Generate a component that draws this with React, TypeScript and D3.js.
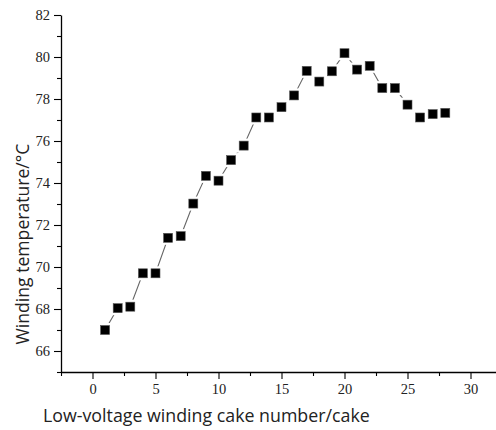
import * as d3 from 'd3';
import React, { useEffect, useRef } from 'react';

// cake number along the low-voltage winding
const cakes = [1, 2, 3, 4, 5, 6, 7, 8, 9, 10, 11, 12, 13, 14, 15, 16, 17, 18, 19, 20, 21, 22, 23, 24, 25, 26, 27, 28];
// winding temperature, degrees C
const temps = [67.0, 68.04, 68.11, 69.7, 69.7, 71.39, 71.47, 73.02, 74.34, 74.11, 75.09, 75.78, 77.12, 77.12, 77.61, 78.17,
  79.34, 78.83, 79.32, 80.18, 79.4, 79.58, 78.52, 78.52, 77.73, 77.12, 77.28, 77.34];

const xTicks = [0, 5, 10, 15, 20, 25, 30];
const xMinor = [-2.5, 2.5, 7.5, 12.5, 17.5, 22.5, 27.5];
const yTicks = [66, 68, 70, 72, 74, 76, 78, 80, 82];
const yMinor = [65, 67, 69, 71, 73, 75, 77, 79, 81];

const W = 496;
const H = 430;
const plot = { left: 61, right: 496, top: 15, bottom: 372 };

const x = d3.scaleLinear().domain([-2.5, 32]).range([plot.left, plot.left + 34.5 * 12.6]);
const y = d3.scaleLinear().domain([65, 82]).range([plot.bottom, plot.top]);

export default function App() {
  const ref = useRef<SVGSVGElement>(null);

  useEffect(() => {
    const svg = d3.select(ref.current);
    svg.selectAll('*').remove();
    const pts = cakes.map((c, i) => ({ c, t: temps[i] }));

    // minor ticks first, then major axes on top
    svg.append('g')
      .attr('transform', `translate(0, ${plot.bottom})`)
      .call(d3.axisBottom(x).tickValues(xMinor).tickSize(4).tickFormat(() => '').tickSizeOuter(0))
      .call(g => g.select('.domain').remove());
    svg.append('g')
      .attr('transform', `translate(${plot.left}, 0)`)
      .call(d3.axisLeft(y).tickValues(yMinor).tickSize(4).tickFormat(() => '').tickSizeOuter(0))
      .call(g => g.select('.domain').remove());

    const gx = svg.append('g')
      .attr('transform', `translate(0, ${plot.bottom})`)
      .call(d3.axisBottom(x).tickValues(xTicks).tickSize(7).tickSizeOuter(0).tickPadding(5));
    const gy = svg.append('g')
      .attr('transform', `translate(${plot.left}, 0)`)
      .call(d3.axisLeft(y).tickValues(yTicks).tickSize(7).tickSizeOuter(0).tickPadding(4));
    [gx, gy].forEach(g => {
      g.attr('font-family', '"Liberation Serif", serif').attr('font-size', 14.5);
      g.selectAll('text').attr('fill', '#222');
      g.select('.domain').attr('stroke-width', 1.3);
    });
    svg.selectAll('.tick line').attr('stroke', '#000').attr('stroke-width', 1.1);

    svg.append('path')
      .datum(pts)
      .attr('fill', 'none')
      .attr('stroke', '#666')
      .attr('stroke-width', 1.1)
      .attr('d', d3.line<{ c: number; t: number }>().x(d => x(d.c)).y(d => y(d.t)));

    // white halo around each marker leaves a gap in the line, Origin style
    svg.append('g').selectAll('rect.halo')
      .data(pts)
      .enter()
      .append('rect')
      .attr('x', d => x(d.c) - 7)
      .attr('y', d => y(d.t) - 7)
      .attr('width', 14)
      .attr('height', 14)
      .attr('fill', '#fff');
    svg.append('g').selectAll('rect.mark')
      .data(pts)
      .enter()
      .append('rect')
      .attr('x', d => x(d.c) - 4.5)
      .attr('y', d => y(d.t) - 4.5)
      .attr('width', 9)
      .attr('height', 9)
      .attr('fill', '#000')
      .attr('stroke', '#555')
      .attr('stroke-width', 0.6);

    svg.append('text')
      .attr('x', 43)
      .attr('y', 422)
      .attr('font-family', '"Open Sans", sans-serif')
      .attr('font-size', 17.8)
      .attr('fill', '#222')
      .text('Low-voltage winding cake number/cake');
    svg.append('text')
      .attr('transform', 'translate(29, 244) rotate(-90)')
      .attr('text-anchor', 'middle')
      .attr('font-family', '"Open Sans", sans-serif')
      .attr('font-size', 17.6)
      .attr('fill', '#222')
      .text('Winding temperature/°C');
  }, []);

  return (
    <svg ref={ref} width={W} height={H} style={{ position: 'absolute', left: 0, top: 0, background: '#fff' }} />
  );
}
